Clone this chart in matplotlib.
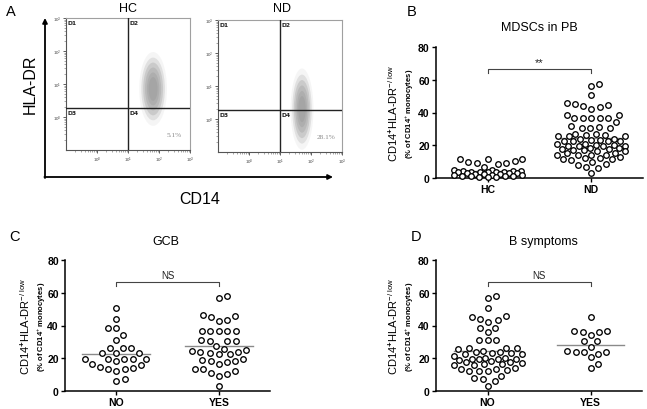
import numpy as np
import matplotlib
matplotlib.use("Agg")
import matplotlib.pyplot as plt
from matplotlib.patches import Ellipse

plt.rcParams['font.family'] = ['Liberation Sans', 'DejaVu Sans']
plt.rcParams['mathtext.fontset'] = 'custom'
plt.rcParams['mathtext.rm'] = 'Liberation Sans'
plt.rcParams['mathtext.it'] = 'Liberation Sans:italic'
plt.rcParams['mathtext.bf'] = 'Liberation Sans:bold'

# ---------------- data ----------------
flow_groups = ['HC', 'ND']
flow_pct = ['5.1%', '28.1%']
cloud_cx = [1.81, 1.71]      # log10 CD14
cloud_cy = [0.85, 0.30]      # log10 HLA-DR
cloud_w = [0.80, 0.66]
cloud_h = [2.00, 2.20]
gate_x = [1.0, 1.0]
gate_y = [0.27, 0.27]
flow_ticks = [0, 1, 2, 3]

b_categories = ['HC', 'ND']
b_hc = [11.5, 11.8, 11.8, 10.4, 10.0, 9.4, 9.2, 8.6, 7.0, 5.0, 4.8, 4.2, 4.0, 4.0,
        3.8, 3.8, 3.6, 3.6, 3.4, 3.4, 3.2, 3.0, 2.8, 2.6, 2.4, 2.2, 2.0, 1.8, 1.6,
        1.5, 1.4, 1.2, 1.0, 0.9, 0.8, 0.6]
b_nd = [57.5, 56.2, 50.9,
        45.8, 44.8, 43.2, 42.4, 43.8, 45.4,
        38.7, 38.7,
        36.4, 36.4, 36.4, 36.4, 36.4, 34.0,
        31.3, 30.3, 30.3, 30.5, 31.5,
        27.0, 26.1, 25.6, 25.6, 25.6, 26.1, 26.7,
        24.0, 23.4, 22.8, 22.4, 22.4, 22.8, 23.4, 24.0,
        21.0, 20.2, 19.7, 19.5, 19.5, 19.7, 20.2, 21.0,
        18.3, 17.7, 17.0, 16.5, 16.3, 17.0, 17.7, 18.3,
        15.0, 14.2, 13.8, 13.8, 14.2, 15.0,
        12.4, 11.6, 11.2, 11.6, 12.4, 13.0,
        10.0, 8.5, 8.0, 6.9, 5.9, 3.0]

c_categories = ['NO', 'YES']
c_no = [50.9, 43.8, 38.7, 38.7, 34.0, 31.1, 26.5, 26.5, 23.4, 23.4, 23.4, 26.5,
        19.7, 19.7, 18.3, 19.7, 19.7, 19.7, 15.7, 14.2, 13.2, 12.2, 13.2, 14.9,
        16.3, 6.1, 7.1]
c_yes = [56.6, 58.2,
         45.6, 43.6, 42.5, 45.0, 46.4,
         36.4, 36.4, 36.4, 36.4, 36.4,
         31.3, 30.3, 30.3, 30.7,
         27.2, 25.6, 25.2, 24.6,
         23.8, 22.4, 22.4, 23.4, 24.0,
         18.3, 16.3, 18.9, 19.7, 17.7, 18.5,
         12.2, 10.2, 9.2, 11.2, 13.6, 13.6,
         3.1]

d_categories = ['NO', 'YES']
d_no = [58.0, 56.6, 50.9,
        45.4, 43.4, 42.1, 43.8, 45.8,
        38.7, 36.2, 38.7,
        31.1, 31.1, 31.1,
        26.5, 26.5, 24.4, 25.4, 26.5,
        24.0, 23.4, 22.4, 22.6, 23.4, 23.8,
        20.2, 19.5, 19.1, 19.3, 19.7, 20.4, 21.4, 19.5,
        18.4, 17.8, 16.3, 16.0, 16.0, 16.3, 17.0, 17.9,
        12.8, 12.2, 13.6, 13.6, 12.2, 12.2, 14.0,
        9.2, 8.1, 7.1, 6.1, 3.1]
d_yes = [45.0, 36.4, 35.8, 34.4, 35.8, 36.4, 30.3, 30.3, 27.0,
         24.6, 23.6, 22.6, 24.0, 24.0, 20.5, 16.5, 13.8]

y_ticks = [0, 20, 40, 60, 80]

# ---------------- layout helpers ----------------
W, H = 647, 410
fig = plt.figure(figsize=(W / 100, H / 100), dpi=100)


def add_ax(l, t, r, b):
    return fig.add_axes([l / W, 1 - b / H, (r - l) / W, (b - t) / H])


def swarm(vals, ypx, d=8.2, maxhalf=34.0):
    """Beeswarm offsets in pixels (layout only; the values are untouched)."""
    vals = np.asarray(vals, float)
    order = np.argsort(vals)
    cands = [0.0]
    k = 0.5
    while k <= maxhalf:
        cands += [k, -k]
        k += 0.5
    placed = []
    offs = np.zeros(len(vals))
    for idx in order:
        y = vals[idx] * ypx
        best, bestc, bestd = None, 0.0, -1
        for c in cands:
            if placed:
                md = min(np.hypot(c - px, y - py) for px, py in placed)
            else:
                md = np.inf
            if md >= d:
                best = c
                break
            if md > bestd:
                bestd, bestc = md, c
        o = best if best is not None else bestc
        offs[idx] = o
        placed.append((o, y))
    return offs


def dotplot(ax, groups, cats, sig, wpx, hpx):
    ax.set_xlim(-0.5, 1.5)
    ax.set_ylim(0, 80)
    xpx = wpx / 2.0
    ypx = hpx / 80.0
    for i, vals in enumerate(groups):
        offs = swarm(vals, ypx)
        ax.plot(i + offs / xpx, vals, 'o', mfc='white', mec='black', ms=4.0,
                mew=0.95, clip_on=False, zorder=3, ls='none')
        m = np.mean(vals)
        ax.plot([i - 0.33, i + 0.33], [m, m], color='#8a8a8a', lw=1.0, zorder=2)
    ax.plot([0, 0, 1, 1], [64.3, 66.3, 66.3, 64.3], color='#444444', lw=0.8)
    ax.text(0.5, 67.8, sig, ha='center', va='bottom',
            fontsize=8 if sig == '**' else 7, color='#222222')
    for s in ['top', 'right']:
        ax.spines[s].set_visible(False)
    for s in ['left', 'bottom']:
        ax.spines[s].set_linewidth(1.1)
    ax.set_yticks(y_ticks)
    ax.set_xticks([0, 1])
    ax.set_xticklabels(cats)
    ax.tick_params(axis='both', direction='out', length=3, width=1.0,
                   labelsize=7.5, pad=1.5)
    for lab in ax.get_xticklabels() + ax.get_yticklabels():
        lab.set_fontweight('bold')


def flowplot(ax, i):
    ax.set_xlim(-1, 3)
    ax.set_ylim(-1, 3)
    for s in ['top', 'right']:
        ax.spines[s].set_color('#a0a0a0')
        ax.spines[s].set_linewidth(0.8)
    for s in ['left', 'bottom']:
        ax.spines[s].set_color('#555555')
        ax.spines[s].set_linewidth(0.8)
    ax.set_xticks(flow_ticks)
    ax.set_yticks(flow_ticks)
    labs = [r'$10^{%d}$' % t for t in flow_ticks]
    ax.set_xticklabels(labs)
    ax.set_yticklabels(labs)
    minors = [np.log10(m * 10.0 ** k) for k in range(-1, 3) for m in range(2, 10)]
    ax.set_xticks(minors, minor=True)
    ax.set_yticks(minors, minor=True)
    ax.tick_params(which='major', length=2.5, width=0.6, labelsize=3.2, pad=1,
                   colors='#444444')
    ax.tick_params(which='minor', length=1.4, width=0.4, colors='#666666')
    scales = [1.12, 0.95, 0.8, 0.65, 0.5, 0.36]
    alphas = [0.08, 0.20, 0.25, 0.25, 0.25, 0.25]
    for s, a in zip(scales, alphas):
        ax.add_patch(Ellipse((cloud_cx[i], cloud_cy[i]), cloud_w[i] * s,
                             cloud_h[i] * s, facecolor='#8c8c8c', edgecolor='none',
                             alpha=a, zorder=1))
    ax.axvline(gate_x[i], color='#222222', lw=1.0, zorder=3)
    ax.axhline(gate_y[i], color='#222222', lw=1.0, zorder=3)
    kw = dict(fontsize=4.3, fontweight='bold', color='#222222', zorder=4,
              family='DejaVu Sans')
    ax.text(-0.95, 2.93, 'D1', va='top', ha='left', **kw)
    ax.text(gate_x[i] + 0.04, 2.93, 'D2', va='top', ha='left', **kw)
    ax.text(-0.95, gate_y[i] - 0.07, 'D3', va='top', ha='left', **kw)
    ax.text(gate_x[i] + 0.04, gate_y[i] - 0.07, 'D4', va='top', ha='left', **kw)
    ax.text(0.87, 0.12, flow_pct[i], transform=ax.transAxes, ha='center',
            va='center', fontsize=5.2, color='#8a8a8a', family='Liberation Serif',
            zorder=4)


# ---------------- panel A ----------------
ax_hc = add_ax(66, 19, 190, 151)
flowplot(ax_hc, 0)
ax_nd = add_ax(218, 21, 342, 153)
flowplot(ax_nd, 1)

# ---------------- panels B, C, D ----------------
ax_b = add_ax(436, 48, 643, 179)
dotplot(ax_b, [b_hc, b_nd], b_categories, '**', 207, 131)
ax_c = add_ax(65, 261, 270, 392)
dotplot(ax_c, [c_no, c_yes], c_categories, 'NS', 205, 131)
ax_d = add_ax(436, 261, 642, 392)
dotplot(ax_d, [d_no, d_yes], d_categories, 'NS', 206, 131)

# ---------------- overlay (pixel coordinates) ----------------
ov = fig.add_axes([0, 0, 1, 1])
ov.set_xlim(0, W)
ov.set_ylim(H, 0)
ov.axis('off')

ov.annotate('', xy=(45, 19), xytext=(45, 179),
            arrowprops=dict(arrowstyle='-|>', lw=1.3, color='black',
                            mutation_scale=7, shrinkA=0, shrinkB=0))
ov.annotate('', xy=(333, 178), xytext=(44.4, 178),
            arrowprops=dict(arrowstyle='-|>', lw=1.3, color='black',
                            mutation_scale=7, shrinkA=0, shrinkB=0))
ov.text(30, 84, 'HLA-DR', rotation=90, ha='center', va='center', fontsize=11.5)
ov.text(200, 200, 'CD14', ha='center', va='center', fontsize=11.5)
ov.text(128, 9.5, flow_groups[0], ha='center', va='center', fontsize=9)
ov.text(282, 9.5, flow_groups[1], ha='center', va='center', fontsize=9)

for letter, x, y in [('A', 11, 12), ('B', 412, 12), ('C', 15, 237), ('D', 416, 237)]:
    ov.text(x, y, letter, ha='center', va='center', fontsize=10.5)

ov.text(539, 28, 'MDSCs in PB', ha='center', va='center', fontsize=9)
ov.text(166, 242, 'GCB', ha='center', va='center', fontsize=9)
ov.text(543, 242, 'B symptoms', ha='center', va='center', fontsize=9)

line1 = r'CD14$^{\mathbf{+}}$HLA-DR$^{-/\ \mathrm{low}}$'
line2 = r'(% of CD14$^{+}$ monocytes)'
for x1, x2, yc in [(393, 410, 113.5), (25, 42, 326.5), (393, 410, 326.5)]:
    ov.text(x1, yc, line1, rotation=90, ha='center', va='center', fontsize=8)
    ov.text(x2, yc, line2, rotation=90, ha='center', va='center', fontsize=5.5,
            fontweight='bold')

fig.savefig('out.png', dpi=100)
